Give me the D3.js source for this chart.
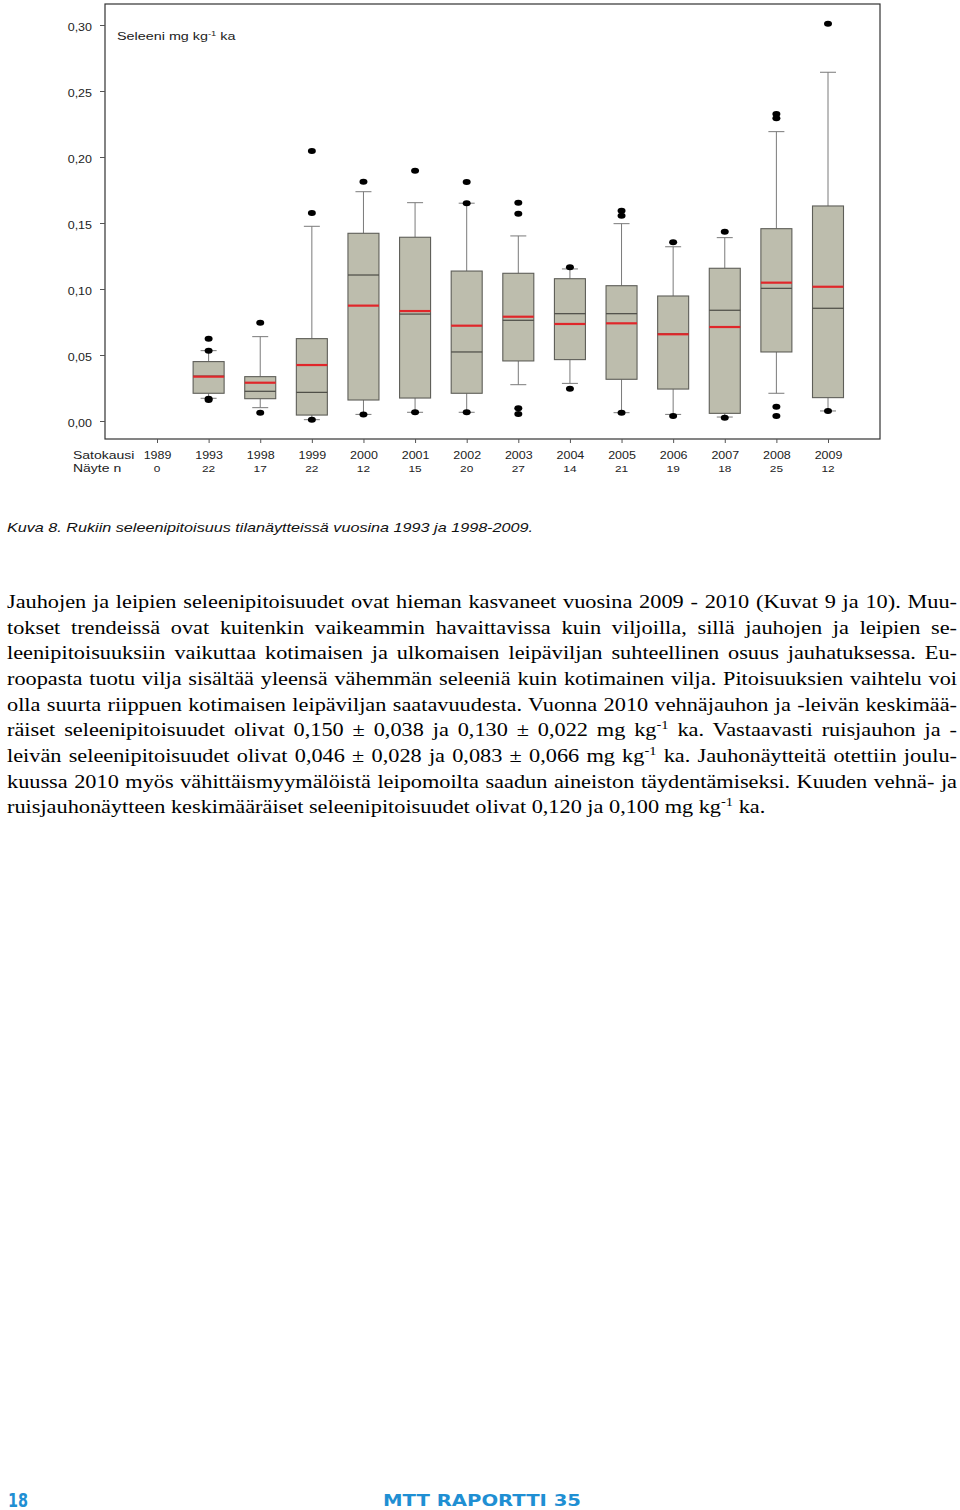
<!DOCTYPE html>
<html>
<head>
<meta charset="utf-8">
<script src="https://cdn.jsdelivr.net/npm/d3@7"></script>
<style>
  body { margin: 0; background: #fff; }
</style>
</head>
<body>
<div id="page"></div>
<script>
// Satokausi (harvest year) and sample counts
const years  = ["1989", "1993", "1998", "1999", "2000", "2001", "2002", "2003", "2004", "2005", "2006", "2007", "2008", "2009"];
const counts = [0, 22, 17, 22, 12, 15, 20, 27, 14, 21, 19, 18, 25, 12];

// box statistics, mg/kg ka (1989 has no samples)
const q1        = [null, 0.021, 0.0169, 0.0045, 0.0159, 0.0174, 0.021, 0.0455, 0.0465, 0.0316, 0.0242, 0.0058, 0.0523, 0.0177];
const median    = [null, 0.034, 0.0225, 0.0217, 0.1106, 0.081, 0.0523, 0.0763, 0.0813, 0.0813, 0.066, 0.0839, 0.1005, 0.0854];
const q3        = [null, 0.045, 0.0336, 0.0624, 0.1422, 0.1392, 0.1136, 0.1119, 0.1078, 0.1025, 0.0947, 0.1157, 0.1457, 0.1629];
const mean      = [null, 0.0336, 0.029, 0.0424, 0.0874, 0.0833, 0.0722, 0.079, 0.0735, 0.074, 0.0657, 0.0712, 0.1048, 0.1017];
const whiskLow  = [null, 0.0172, 0.0101, 0.001, 0.005, 0.0066, 0.0066, 0.0275, 0.0285, 0.0063, 0.005, 0.003, 0.021, 0.0076];
const whiskHigh = [null, 0.0533, 0.0639, 0.1475, 0.1737, 0.1654, 0.165, 0.1402, 0.1152, 0.1495, 0.132, 0.1389, 0.2192, 0.2642];
const outliers  = [
  [],
  [0.0623, 0.0533, 0.0168, 0.016],
  [0.0745, 0.0063],
  [0.2045, 0.1576, 0.001],
  [0.1813, 0.005],
  [0.1896, 0.0066],
  [0.181, 0.165, 0.0066],
  [0.1654, 0.157, 0.0096, 0.0053],
  [0.1164, 0.0245],
  [0.1593, 0.1555, 0.0063],
  [0.1354, 0.0038],
  [0.1434, 0.0025],
  [0.2326, 0.2293, 0.0108, 0.0038],
  [0.301, 0.0076]
];
const yTicks = [0, 0.05, 0.10, 0.15, 0.20, 0.25, 0.30];

const caption = "Kuva 8. Rukiin seleenipitoisuus tilanäytteissä vuosina 1993 ja 1998-2009.";
const paragraph = [
  "Jauhojen ja leipien seleenipitoisuudet ovat hieman kasvaneet vuosina 2009 - 2010 (Kuvat 9 ja 10). Muu-",
  "tokset trendeissä ovat kuitenkin vaikeammin havaittavissa kuin viljoilla, sillä jauhojen ja leipien se-",
  "leenipitoisuuksiin vaikuttaa kotimaisen ja ulkomaisen leipäviljan suhteellinen osuus jauhatuksessa. Eu-",
  "roopasta tuotu vilja sisältää yleensä vähemmän seleeniä kuin kotimainen vilja. Pitoisuuksien vaihtelu voi",
  "olla suurta riippuen kotimaisen leipäviljan saatavuudesta. Vuonna 2010 vehnäjauhon ja -leivän keskimää-",
  "räiset seleenipitoisuudet olivat 0,150 ± 0,038 ja 0,130 ± 0,022 mg kg^-1^ ka. Vastaavasti ruisjauhon ja -",
  "leivän seleenipitoisuudet olivat 0,046 ± 0,028 ja 0,083 ± 0,066 mg kg^-1^ ka. Jauhonäytteitä otettiin joulu-",
  "kuussa 2010 myös vähittäismyymälöistä leipomoilta saadun aineiston täydentämiseksi. Kuuden vehnä- ja",
  "ruisjauhonäytteen keskimääräiset seleenipitoisuudet olivat 0,120 ja 0,100 mg kg^-1^ ka."
];

const W = 960, H = 1510;
const sx = 1.25; // the page scan is stretched sideways

const svg = d3.select("#page").append("svg")
  .attr("width", W)
  .attr("height", H)
  .style("display", "block")
  .style("font-family", "'Liberation Sans', Arial, sans-serif");

const x = d3.scalePoint().domain(years).range([157, 828]);
const y = d3.scaleLinear().domain([0, 0.30]).range([421, 25]);
const boxW = 31;

// writes "a^sup^b" as text with superscript tspans
function addRich(sel, str, supSize, supRise) {
  str.split("^").forEach((part, k) => {
    if (!part) return;
    const t = sel.append("tspan").text(part);
    if (k % 2 === 1) {
      t.attr("font-size", supSize).attr("dy", -supRise);
    } else if (k > 0) {
      t.attr("dy", supRise);
    }
  });
}

// plot frame
svg.append("rect")
  .attr("x", 105).attr("y", 4)
  .attr("width", 775).attr("height", 435)
  .attr("fill", "none")
  .attr("stroke", "#333")
  .attr("stroke-width", 1.2);

// y axis
const yAxis = svg.append("g")
  .attr("transform", "translate(105,0)")
  .attr("font-family", "'Liberation Sans', Arial, sans-serif")
  .attr("font-size", 11.5)
  .call(d3.axisLeft(y).tickValues(yTicks).tickSize(5)
    .tickFormat(d => d3.format(".2f")(d).replace(".", ",")));
yAxis.select(".domain").remove();
yAxis.selectAll(".tick line").attr("stroke", "#555");
yAxis.selectAll(".tick text")
  .attr("x", 0).attr("dy", null)
  .attr("fill", "#222")
  .attr("transform", `translate(-13,5.5) scale(${sx},1)`);

// x axis (years row)
const xAxis = svg.append("g")
  .attr("transform", "translate(0,439)")
  .attr("font-family", "'Liberation Sans', Arial, sans-serif")
  .attr("font-size", 11.5)
  .call(d3.axisBottom(x).tickSize(4));
xAxis.select(".domain").remove();
xAxis.selectAll(".tick line").attr("stroke", "#555");
xAxis.selectAll(".tick text")
  .attr("y", 0).attr("dy", null)
  .attr("fill", "#222")
  .attr("transform", `translate(0,20) scale(${sx},1)`);

// sample count row
svg.append("g").selectAll("text")
  .data(years)
  .join("text")
  .attr("transform", (d) => `translate(${x(d)},471.5) scale(${sx},1)`)
  .attr("text-anchor", "middle")
  .attr("font-size", 9.5)
  .attr("fill", "#222")
  .text((d, i) => counts[i]);

svg.append("text")
  .attr("transform", `translate(73,459) scale(${sx},1)`)
  .attr("font-size", 11.2).attr("fill", "#222")
  .text("Satokausi");
svg.append("text")
  .attr("transform", `translate(73,471.5) scale(${sx},1)`)
  .attr("font-size", 11.2).attr("fill", "#222")
  .text("Näyte n");

// unit label inside plot
const unit = svg.append("text")
  .attr("transform", `translate(117,40) scale(${sx},1)`)
  .attr("font-size", 11.5).attr("fill", "#222");
addRich(unit, "Seleeni mg kg^-1^ ka", 7.5, 4);

// boxes
const boxes = years.map((yr, i) => ({
  year: yr, q1: q1[i], median: median[i], q3: q3[i], mean: mean[i],
  lo: whiskLow[i], hi: whiskHigh[i], out: outliers[i]
})).filter(d => d.q1 !== null);

const g = svg.append("g");
const bx = g.selectAll("g.box").data(boxes).join("g").attr("class", "box");

bx.append("line")
  .attr("x1", d => x(d.year)).attr("x2", d => x(d.year))
  .attr("y1", d => y(d.hi)).attr("y2", d => y(d.q3))
  .attr("stroke", "#7a7a7a");
bx.append("line")
  .attr("x1", d => x(d.year)).attr("x2", d => x(d.year))
  .attr("y1", d => y(d.q1)).attr("y2", d => y(d.lo))
  .attr("stroke", "#7a7a7a");
bx.append("line")
  .attr("x1", d => x(d.year) - 8).attr("x2", d => x(d.year) + 8)
  .attr("y1", d => y(d.hi)).attr("y2", d => y(d.hi))
  .attr("stroke", "#7a7a7a");
bx.append("line")
  .attr("x1", d => x(d.year) - 8).attr("x2", d => x(d.year) + 8)
  .attr("y1", d => y(d.lo)).attr("y2", d => y(d.lo))
  .attr("stroke", "#7a7a7a");

bx.append("rect")
  .attr("x", d => x(d.year) - boxW / 2)
  .attr("y", d => y(d.q3))
  .attr("width", boxW)
  .attr("height", d => y(d.q1) - y(d.q3))
  .attr("fill", "#bdbdad")
  .attr("stroke", "#5e5e58")
  .attr("stroke-width", 1.1);

bx.append("line")
  .attr("x1", d => x(d.year) - boxW / 2).attr("x2", d => x(d.year) + boxW / 2)
  .attr("y1", d => y(d.median)).attr("y2", d => y(d.median))
  .attr("stroke", "#4a4a44").attr("stroke-width", 1.2);
bx.append("line")
  .attr("x1", d => x(d.year) - boxW / 2).attr("x2", d => x(d.year) + boxW / 2)
  .attr("y1", d => y(d.mean)).attr("y2", d => y(d.mean))
  .attr("stroke", "#e0262a").attr("stroke-width", 2.2);

bx.selectAll("ellipse")
  .data(d => d.out.map(v => ({ year: d.year, v })))
  .join("ellipse")
  .attr("cx", d => x(d.year))
  .attr("cy", d => y(d.v))
  .attr("rx", 4).attr("ry", 3)
  .attr("fill", "#000");

// caption
svg.append("text")
  .attr("x", 7).attr("y", 532)
  .attr("font-size", 13.5)
  .attr("font-style", "italic")
  .attr("fill", "#111")
  .attr("textLength", 526)
  .attr("lengthAdjust", "spacingAndGlyphs")
  .text(caption);

// body paragraph
const lineY = d3.range(paragraph.length).map(i => 608 + i * 25.65);
const para = svg.append("g")
  .attr("font-family", "'Liberation Serif', 'Times New Roman', serif")
  .attr("font-size", 18.5)
  .attr("fill", "#000");
const lines = para.selectAll("text")
  .data(paragraph)
  .join("text")
  .attr("x", 0).attr("y", 0)
  .each(function(d) { addRich(d3.select(this), d, 12, 7); });

const lastW = lines.filter((d, i) => i === paragraph.length - 1).node().getComputedTextLength();
const ps = 759 / lastW;
const target = 950 / ps;
lines.each(function(d, i) {
  const t = d3.select(this);
  t.attr("transform", `translate(7,${lineY[i]}) scale(${ps},1)`);
  if (i < paragraph.length - 1) {
    const w = this.getComputedTextLength();
    const gaps = (d.replace(/\^/g, "").match(/ /g) || []).length;
    t.style("word-spacing", ((target - w) / gaps) + "px");
  }
});

// page footer
svg.append("text")
  .attr("x", 8).attr("y", 1507)
  .attr("font-family", "'DejaVu Sans Condensed', 'DejaVu Sans', sans-serif")
  .attr("font-weight", "bold")
  .attr("font-size", 19)
  .attr("fill", "#1f8fd3")
  .attr("textLength", 20)
  .attr("lengthAdjust", "spacingAndGlyphs")
  .text("18");
svg.append("text")
  .attr("x", 383).attr("y", 1506)
  .attr("font-family", "'DejaVu Sans Condensed', 'DejaVu Sans', sans-serif")
  .attr("font-weight", "bold")
  .attr("font-size", 16.5)
  .attr("fill", "#1f8fd3")
  .attr("textLength", 198)
  .attr("lengthAdjust", "spacingAndGlyphs")
  .text("MTT RAPORTTI 35");
</script>
</body>
</html>
